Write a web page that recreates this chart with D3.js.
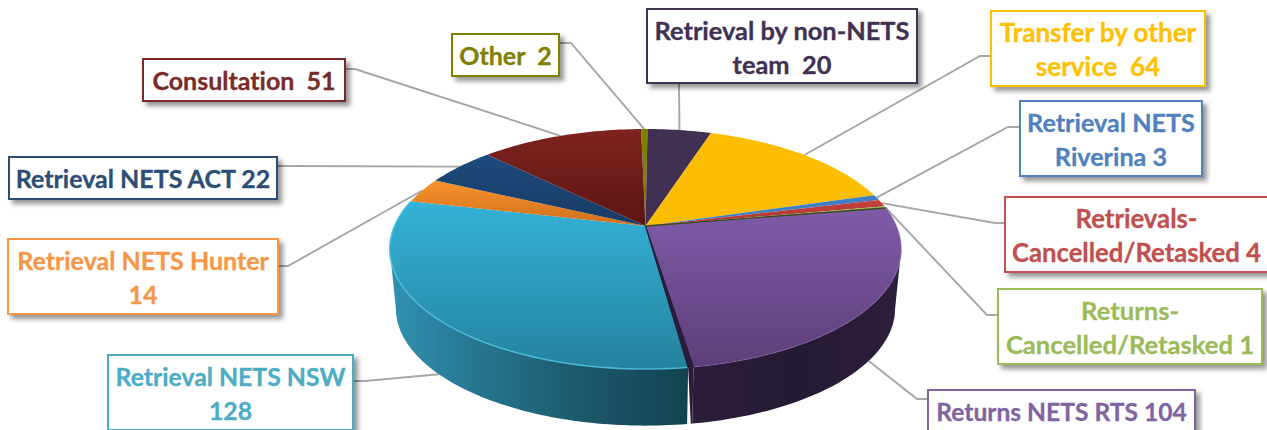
<!DOCTYPE html>
<html>
<head>
<meta charset="utf-8">
<script src="https://cdn.jsdelivr.net/npm/d3@7"></script>
<style>
  html, body { margin: 0; padding: 0; background: #fff; overflow: hidden; }
  text { font-family: Lato, "Open Sans", sans-serif; font-weight: 700; white-space: pre; font-variant-ligatures: none; }
</style>
</head>
<body>
<div id="chart-area"></div>
<script>
// order is clockwise starting just left of 12 o'clock
const categories = ["Other", "Retrieval by non-NETS team", "Transfer by other service", "Retrieval NETS Riverina",
  "Retrievals-Cancelled/Retasked", "Returns-Cancelled/Retasked", "Returns NETS RTS", "Retrieval NETS NSW",
  "Retrieval NETS Hunter", "Retrieval NETS ACT", "Consultation"];
const values = [2, 20, 64, 3, 4, 1, 104, 128, 14, 22, 51];

// wrapped label text, same order
const labelLines = [["Other  2"], ["Retrieval by non-NETS", "team  20"], ["Transfer by other", "service  64"],
  ["Retrieval NETS", "Riverina 3"], ["Retrievals-", "Cancelled/Retasked 4"], ["Returns-", "Cancelled/Retasked 1"],
  ["Returns NETS RTS 104"], ["Retrieval NETS NSW", "128"], ["Retrieval NETS Hunter", "14"],
  ["Retrieval NETS ACT 22"], ["Consultation  51"]];

const labelColors = ["#808000", "#403152", "#ffc000", "#4f81bd", "#c0504d", "#9bbb59", "#8064a2", "#4bacc6", "#f79646", "#2c4d75", "#772c2a"];
const labelSizes = [25, 25.4, 26, 25.2, 25.7, 25.6, 24.6, 24.8, 25, 25, 25];
const topLight = ["#808000", "#403152", "#fdbd00", "#3f7fc8", "#c4403c", "#93b84f", "#7f5ba8", "#35b2d8", "#f9932c", "#1f4b7e", "#7e2320"];
const topDark = ["#808000", "#403152", "#fdbd00", "#3f7fc8", "#b03835", "#6f9035", "#5c3f78", "#25829e", "#cf6f1d", "#173a62", "#5c1513"];

// label boxes: x, y, w, h and the elbow where the leader bends. tx is the text centre
const boxes = [
  { x: 452, y: 34, w: 107, h: 42, ex: 571, ey: 43, sx: 559 },
  { x: 647, y: 9, w: 270, h: 74, ex: 679, ey: 83, sx: 679, sy: 83 },
  { x: 991, y: 11, w: 214, h: 75, ex: 980, ey: 56, sx: 991 },
  { x: 1020, y: 101, w: 182, h: 75, ex: 1008, ey: 127, sx: 1020 },
  { x: 1005, y: 197, w: 270, h: 75, ex: 995, ey: 223, sx: 1005, tx: 1136.5 },
  { x: 998, y: 289, w: 264, h: 75, ex: 987, ey: 315, sx: 998 },
  { x: 928, y: 390, w: 267, h: 44, ex: 917, ey: 399, sx: 928 },
  { x: 108, y: 355, w: 245, h: 75, ex: 365, ey: 381, sx: 353 },
  { x: 8, y: 239, w: 270, h: 75, ex: 288, ey: 266, sx: 278 },
  { x: 9, y: 157, w: 268, h: 42, ex: 288, ey: 166, sx: 277 },
  { x: 143, y: 59, w: 202, h: 42, ex: 355, ey: 69, sx: 345 }
];

const width = 1267, height = 430;

// perspective pie: cx/cy is where the apex lands, k is the foreshortening
const cx = 645.5, cy = 226, radX = 251, radY = 115.6, k = 0.192;
const depth = 60, bottomScale = 0.976;
const startDeg = -1.2;

function project(theta, bottom) {
  const px = Math.sin(theta), py = Math.cos(theta);
  const f = 1 / (1 + k * py);
  const s = bottom ? bottomScale : 1;
  return [cx + radX * s * px * f, cy + (bottom ? depth : 0) - radY * s * py * f];
}

function rimPoints(a0, a1, bottom) {
  const n = Math.max(2, Math.ceil(Math.abs(a1 - a0) / 0.02));
  return d3.range(n + 1).map((i) => project(a0 + (a1 - a0) * i / n, bottom));
}

const line = d3.line();
const rad = Math.PI / 180;

const pie = d3.pie().value((d) => d).sort(null)
  .startAngle(startDeg * rad).endAngle(startDeg * rad + 2 * Math.PI);
const slices = pie(values);

const svg = d3.select("#chart-area").append("svg")
  .attr("width", width).attr("height", height).style("display", "block");

const defs = svg.append("defs");

defs.append("filter").attr("id", "box-shadow")
  .attr("x", "-10%").attr("y", "-20%").attr("width", "125%").attr("height", "150%")
  .append("feDropShadow")
  .attr("dx", 4).attr("dy", 4).attr("stdDeviation", 2.5)
  .attr("flood-color", "#000").attr("flood-opacity", 0.42);

slices.forEach((d, i) => {
  const g = defs.append("linearGradient").attr("id", "top-" + i)
    .attr("x1", 0).attr("y1", 0).attr("x2", 0).attr("y2", 1);
  g.append("stop").attr("offset", "0%").attr("stop-color", topLight[i]);
  g.append("stop").attr("offset", "100%").attr("stop-color", topDark[i]);
});

const sideNsw = defs.append("linearGradient").attr("id", "side-nsw")
  .attr("x1", 0).attr("y1", 0).attr("x2", 1).attr("y2", 0);
[["0%", "#3192b2"], ["30%", "#267590"], ["60%", "#1d5c6e"], ["100%", "#134250"]].forEach((s) => {
  sideNsw.append("stop").attr("offset", s[0]).attr("stop-color", s[1]);
});

const sideRts = defs.append("linearGradient").attr("id", "side-rts")
  .attr("x1", 0).attr("y1", 0).attr("x2", 1).attr("y2", 0);
[["0%", "#2c1e3b"], ["50%", "#241a33"], ["100%", "#2d1f3d"]].forEach((s) => {
  sideRts.append("stop").attr("offset", s[0]).attr("stop-color", s[1]);
});

// ---- LEADERS ----
// anchored on the slice's mid angle, front slices hit the bottom rim
svg.append("g").selectAll("path").data(slices).join("path")
  .attr("fill", "none").attr("stroke", "#a6a6a6").attr("stroke-width", 1.9)
  .attr("d", (d, i) => {
    const mid = (d.startAngle + d.endAngle) / 2;
    const end = project(mid, Math.cos(mid) < -k);
    const b = boxes[i];
    const start = [b.sx, b.sy === undefined ? b.ey : b.sy];
    return line([start, [b.ex, b.ey], end]);
  });

// ---- SIDE WALL ----
// the wall only shows between the two silhouette angles
const rts = slices[6], nsw = slices[7];
const edgeR = Math.acos(-k), edgeL = 2 * Math.PI - edgeR;
const cutA = rts.endAngle - 0.3 * rad, cutB = rts.endAngle + 0.7 * rad;

svg.append("path").attr("fill", "url(#side-nsw)")
  .attr("d", line(rimPoints(cutB, edgeL, false).concat(rimPoints(edgeL, cutB, true))) + "Z");
svg.append("path").attr("fill", "url(#side-rts)")
  .attr("d", line(rimPoints(edgeR, cutA, false).concat(rimPoints(cutA, edgeR, true))) + "Z");
// the dark notch between the two big slices
svg.append("path").attr("fill", "#2a1d3a")
  .attr("d", line([project(cutB, false), project(cutA, false), project(cutA, true), project(rts.endAngle, true)]) + "Z");

// ---- TOP FACE ----
svg.append("g").selectAll("path").data(slices).join("path")
  .attr("fill", (d, i) => "url(#top-" + i + ")")
  .attr("d", (d) => line([[cx, cy]].concat(rimPoints(d.startAngle, d.endAngle, false))) + "Z");

// dark cut lines at the apex and along the thin slice
svg.append("path").attr("fill", "#2a1d3a").attr("stroke", "#2a1d3a").attr("stroke-width", 1.2)
  .attr("d", line([[cx, cy], project(cutA, false), project(cutB, false)]) + "Z");
svg.append("path").attr("fill", "none").attr("stroke", "#3c4a22").attr("stroke-width", 1.4)
  .attr("d", line([[cx, cy], project(rts.startAngle, false)]));

// bevel highlight on the front edge
svg.append("path").attr("fill", "none").attr("stroke", "#4cc0e2").attr("stroke-width", 1.6)
  .attr("stroke-opacity", 0.85)
  .attr("d", line(rimPoints(cutB + 0.3 * rad, nsw.endAngle, false)));
svg.append("path").attr("fill", "none").attr("stroke", "#8b6bb3").attr("stroke-width", 1.2)
  .attr("stroke-opacity", 0.4)
  .attr("d", line(rimPoints(rts.startAngle, cutA - 0.3 * rad, false)));

// ---- LABELS ----
const labels = svg.append("g").selectAll("g").data(categories).join("g")
  .attr("class", "label")
  .attr("aria-label", (d, i) => d + " " + values[i]);

labels.append("rect")
  .attr("x", (d, i) => boxes[i].x).attr("y", (d, i) => boxes[i].y)
  .attr("width", (d, i) => boxes[i].w).attr("height", (d, i) => boxes[i].h)
  .attr("fill", "#fff").attr("stroke", (d, i) => labelColors[i]).attr("stroke-width", 2)
  .attr("filter", "url(#box-shadow)");

labels.each(function (d, i) {
  const b = boxes[i];
  d3.select(this).selectAll("text").data(labelLines[i]).join("text")
    .attr("x", b.tx === undefined ? b.x + b.w / 2 : b.tx)
    .attr("y", (t, j) => b.y + 22 + j * 34)
    .attr("dy", "0.35em")
    .attr("text-anchor", "middle")
    .attr("font-size", labelSizes[i])
    .attr("fill", labelColors[i])
    .attr("stroke", labelColors[i]).attr("stroke-width", 0.3)
    .text((t) => t);
});
</script>
</body>
</html>
